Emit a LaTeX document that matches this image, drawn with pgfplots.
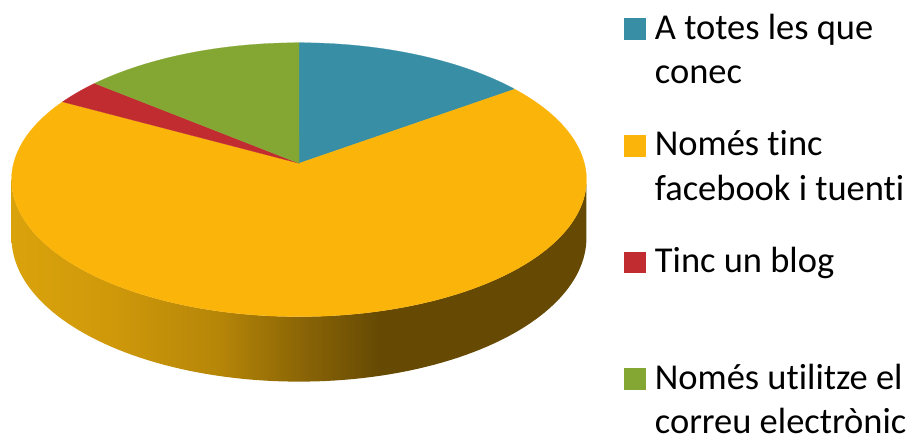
\documentclass[border=0pt]{standalone}
\usepackage{fontspec}
\setmainfont{Carlito}[Ligatures=NoCommon]
\usepackage{pgfplots}
\usepackage{pgfplotstable}
\pgfplotsset{compat=1.18}

\definecolor{cblue}{RGB}{56,143,165}
\definecolor{cyellow}{RGB}{251,180,9}
\definecolor{cred}{RGB}{193,44,48}
\definecolor{cgreen}{RGB}{132,167,52}
% side wall of the pie, light on the left, dark on the right
\definecolor{s0}{RGB}{218,163,12}
\definecolor{s1}{RGB}{206,152,10}
\definecolor{s2}{RGB}{182,134,8}
\definecolor{s3}{RGB}{140,102,6}
\definecolor{s4}{RGB}{102,74,4}
\pgfdeclarehorizontalshading{sideshade}{100bp}{color(0bp)=(s0); color(25bp)=(s0);
  color(34bp)=(s1); color(43bp)=(s2); color(50bp)=(s3); color(57bp)=(s4); color(100bp)=(s4)}

\pgfplotstableread{
resposta nombre
totes    15
fbtuenti 68
blog     3
correu   14
}\dades

\begin{document}
\begin{tikzpicture}
\pgfplotstablegetelem{0}{nombre}\of\dades\let\na\pgfplotsretval
\pgfplotstablegetelem{1}{nombre}\of\dades\let\nb\pgfplotsretval
\pgfplotstablegetelem{2}{nombre}\of\dades\let\nc\pgfplotsretval
\pgfplotstablegetelem{3}{nombre}\of\dades\let\nd\pgfplotsretval
\pgfmathsetmacro\tot{\na+\nb+\nc+\nd}
\pgfmathsetmacro\aA{90}
\pgfmathsetmacro\aB{\aA-360*(\na/\tot)}
\pgfmathsetmacro\aC{\aB-360*(\nb/\tot)}
\pgfmathsetmacro\aD{\aC-360*(\nc/\tot)}
\pgfmathsetmacro\aE{\aD-360*(\nd/\tot)}
\useasboundingbox (0,0) rectangle (919bp,438bp);
\begin{axis}[
    at={(0,0)}, anchor=south west,
    width=919bp, height=438bp, scale only axis,
    xmin=0, xmax=919, ymin=0, ymax=438,
    hide axis, clip=false,
    declare function={
      px(\a)=299+285.4*cos(\a)/(1+0.1197*sin(\a));
      py(\a)=274.7+135*sin(\a)/(1+0.1197*sin(\a));
      dz(\a)=57.2/(1+0.1197*sin(\a));
      ph(\t)=(\t<1)*(186.9+166.2*\t)+(1-(\t<1))*(353.1-166.2*(\t-1));
    },
    legend style={at={(axis cs:624,430.03)}, anchor=north west,
      draw=none, fill=none, inner sep=0pt, outer sep=0pt,
      row sep=0pt, column sep=10bp,
      font=\fontsize{36.6}{44.5}\selectfont,
      cells={anchor=base west},
      nodes={inner sep=0pt, outer sep=0pt, text depth=}},
    legend image code/.code={\fill[#1] (0bp,0bp) rectangle (20.7bp,20.7bp);},
  ]
  % front wall
  \addplot[forget plot, draw=none, shade, shading=sideshade, domain=0:2, samples=201, variable=\t]
    ({px(ph(\t))}, {py(ph(\t))-(1-(\t<1))*dz(ph(\t))}) -- cycle;
  % top face
  \addplot[fill=cblue, draw=cblue, line width=0.2pt, domain=\aB:\aA, samples=60, variable=\t]
    ({px(\t)},{py(\t)}) -- (axis cs:299,274.7) -- cycle;
  \addlegendentry{\parbox[t][116.7bp][t]{255bp}{\strut A totes les que\\conec}}
  \addplot[fill=cyellow, draw=cyellow, line width=0.2pt, domain=\aC:\aB, samples=200, variable=\t]
    ({px(\t)},{py(\t)}) -- (axis cs:299,274.7) -- cycle;
  \addlegendentry{\parbox[t][116.7bp][t]{255bp}{\strut Només tinc\\facebook i tuenti}}
  \addplot[fill=cred, draw=cred, line width=0.2pt, domain=\aD:\aC, samples=20, variable=\t]
    ({px(\t)},{py(\t)}) -- (axis cs:299,274.7) -- cycle;
  \addlegendentry{\parbox[t][116.7bp][t]{255bp}{\strut Tinc un blog}}
  \addplot[fill=cgreen, draw=cgreen, line width=0.2pt, domain=\aE:\aD, samples=60, variable=\t]
    ({px(\t)},{py(\t)}) -- (axis cs:299,274.7) -- cycle;
  \addlegendentry{\parbox[t]{255bp}{\strut Només utilitze el\\correu electrònic}}
\end{axis}
\end{tikzpicture}
\end{document}
